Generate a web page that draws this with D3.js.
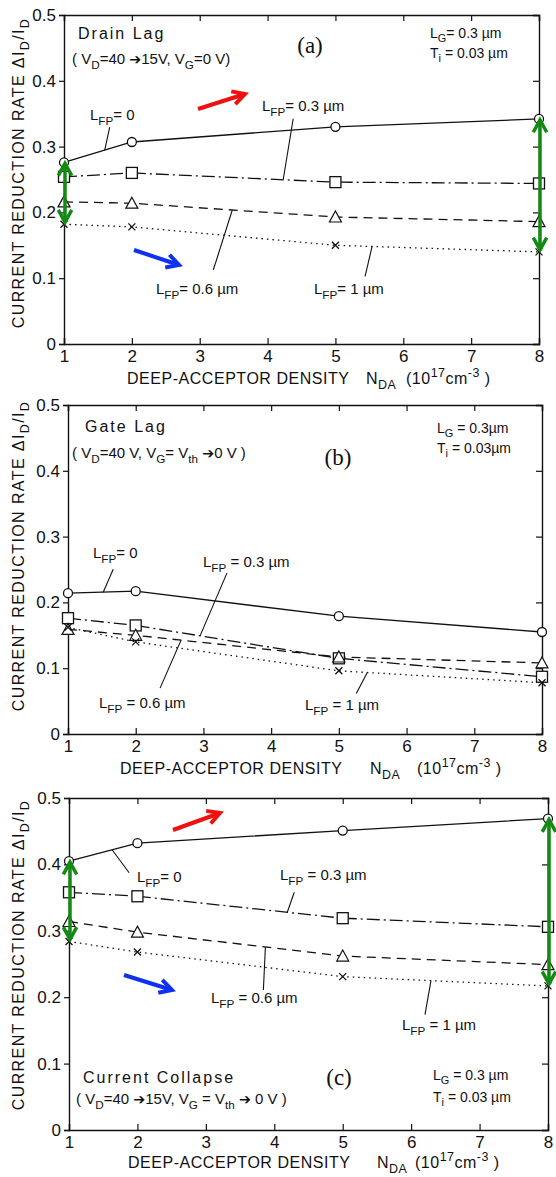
<!DOCTYPE html>
<html>
<head>
<meta charset="utf-8">
<script src="https://cdn.jsdelivr.net/npm/d3@7"></script>
<style>
  body { margin: 0; background: #fff; }
  text { font-family: "Liberation Sans", Arial, sans-serif; fill: #111; }
</style>
</head>
<body>
<svg id="chart"></svg>
<script>
// deep-acceptor density (1e17 cm^-3) where points were computed
var densities = [1, 2, 5, 8];
var xTickValues = [1, 2, 3, 4, 5, 6, 7, 8];
var yTickValues = [0, 0.1, 0.2, 0.3, 0.4, 0.5];
var yTickLabels = ['0', '0.1', '0.2', '0.3', '0.4', '0.5'];

// (a) drain lag, one array per field-plate length
var drainLag0 = [0.276, 0.307, 0.330, 0.342];
var drainLag03 = [0.254, 0.260, 0.246, 0.244];
var drainLag06 = [0.216, 0.214, 0.193, 0.186];
var drainLag1 = [0.182, 0.178, 0.150, 0.140];

// (b) gate lag
var gateLag0 = [0.214, 0.217, 0.179, 0.155];
var gateLag03 = [0.176, 0.165, 0.115, 0.087];
var gateLag06 = [0.159, 0.150, 0.117, 0.108];
var gateLag1 = [0.162, 0.140, 0.096, 0.078];

// (c) current collapse
var collapse0 = [0.405, 0.432, 0.451, 0.469];
var collapse03 = [0.358, 0.352, 0.319, 0.306];
var collapse06 = [0.314, 0.298, 0.262, 0.249];
var collapse1 = [0.284, 0.268, 0.231, 0.217];

var width = 556,
    height = 1177,
    svg = d3.select('#chart').attr('width', width).attr('height', height);

// line style + marker per L_FP series (0, 0.3, 0.6, 1 um)
var styles = [
    { dash: null, marker: 'circle' },
    { dash: '13,4,2,4', marker: 'square' },
    { dash: '9,6', marker: 'triangle' },
    { dash: '1.5,4', marker: 'cross' }
];

var panels = [
    {
        box: { left: 64, right: 539, top: 15, bottom: 344 },
        series: [drainLag0, drainLag03, drainLag06, drainLag1],
        title: { x: 127, y: 384, n: 366, unit: 406 },
        ylabel: 173,
        texts: [
            { x: 78, y: 39, parts: [['Drain Lag']], size: 16, ls: 2 },
            { x: 72, y: 64, parts: [['( V'], ['D', 'sub'], ['=40 '], ['\u2794', 'arr'], ['15V, V'], ['G', 'sub'], ['=0 V)']], size: 15 },
            { x: 430, y: 38, parts: [['L'], ['G', 'sub'], ['= 0.3 \u00b5m']], size: 14 },
            { x: 430, y: 58, parts: [['T'], ['i', 'sub'], [' = 0.03 \u00b5m']], size: 14 },
            { x: 90, y: 120, parts: [['L'], ['FP', 'sub'], ['= 0']], size: 15 },
            { x: 262, y: 111, parts: [['L'], ['FP', 'sub'], ['= 0.3 \u00b5m']], size: 15 },
            { x: 156, y: 294, parts: [['L'], ['FP', 'sub'], ['= 0.6 \u00b5m']], size: 15 },
            { x: 314, y: 294, parts: [['L'], ['FP', 'sub'], ['= 1 \u00b5m']], size: 15 }
        ],
        tag: { x: 310, y: 53, text: '(a)' },
        leaders: [
            { x: 1.6, s: 0, dx: 5, dy: -23 },
            { x: 4.23, s: 1, dx: 10, dy: -61 },
            { x: 3.48, s: 2, dx: -19, dy: 60 },
            { x: 5.54, s: 3, dx: -7, dy: 30 }
        ],
        arrows: [
            { x1: 198, y1: 109, x2: 245, y2: 94, color: '#f01010' },
            { x1: 134, y1: 250, x2: 179, y2: 265, color: '#1030f0' }
        ],
        green: true
    },
    {
        box: { left: 68, right: 542, top: 405, bottom: 734 },
        series: [gateLag0, gateLag03, gateLag06, gateLag1],
        title: { x: 120, y: 774, n: 370, unit: 417 },
        ylabel: 556,
        texts: [
            { x: 85, y: 432, parts: [['Gate Lag']], size: 16, ls: 2 },
            { x: 72, y: 458, parts: [['( V'], ['D', 'sub'], ['=40 V,  V'], ['G', 'sub'], ['= V'], ['th', 'sub'], [' '], ['\u2794', 'arr'], ['0 V )']], size: 15 },
            { x: 437, y: 433, parts: [['L'], ['G', 'sub'], [' = 0.3\u00b5m']], size: 14 },
            { x: 437, y: 453, parts: [['T'], ['i', 'sub'], [' = 0.03\u00b5m']], size: 14 },
            { x: 93, y: 558, parts: [['L'], ['FP', 'sub'], ['= 0']], size: 15 },
            { x: 203, y: 567, parts: [['L'], ['FP', 'sub'], [' = 0.3 \u00b5m']], size: 15 },
            { x: 99, y: 708, parts: [['L'], ['FP', 'sub'], [' = 0.6 \u00b5m']], size: 15 },
            { x: 305, y: 710, parts: [['L'], ['FP', 'sub'], [' = 1 \u00b5m']], size: 15 }
        ],
        tag: { x: 338, y: 465, text: '(b)' },
        leaders: [
            { x: 1.52, s: 0, dx: 10, dy: -23 },
            { x: 2.95, s: 1, dx: 27, dy: -63 },
            { x: 2.67, s: 2, dx: -21, dy: 48 },
            { x: 5.42, s: 3, dx: -11, dy: 21 }
        ],
        arrows: [],
        green: false
    },
    {
        box: { left: 69, right: 548, top: 798, bottom: 1130 },
        series: [collapse0, collapse03, collapse06, collapse1],
        title: { x: 128, y: 1168, n: 377, unit: 415 },
        ylabel: 955,
        texts: [
            { x: 83, y: 1083, parts: [['Current Collapse']], size: 16, ls: 2 },
            { x: 76, y: 1104, parts: [['( V'], ['D', 'sub'], ['=40 '], ['\u2794', 'arr'], ['15V, V'], ['G', 'sub'], [' = V'], ['th', 'sub'], [' '], ['\u2794', 'arr'], [' 0 V )']], size: 15 },
            { x: 433, y: 1080, parts: [['L'], ['G', 'sub'], [' = 0.3 \u00b5m']], size: 14 },
            { x: 433, y: 1102, parts: [['T'], ['i', 'sub'], [' = 0.03 \u00b5m']], size: 14 },
            { x: 137, y: 882, parts: [['L'], ['FP', 'sub'], ['= 0']], size: 15 },
            { x: 280, y: 880, parts: [['L'], ['FP', 'sub'], [' = 0.3 \u00b5m']], size: 15 },
            { x: 211, y: 1003, parts: [['L'], ['FP', 'sub'], [' = 0.6 \u00b5m']], size: 15 },
            { x: 402, y: 1030, parts: [['L'], ['FP', 'sub'], [' = 1 \u00b5m']], size: 15 }
        ],
        tag: { x: 339, y: 1085, text: '(c)' },
        leaders: [
            { x: 1.63, s: 0, dx: 17, dy: 23 },
            { x: 4.19, s: 1, dx: 7, dy: -20 },
            { x: 3.87, s: 2, dx: -2, dy: 43 },
            { x: 6.29, s: 3, dx: -6, dy: 34 }
        ],
        arrows: [
            { x1: 173, y1: 830, x2: 220, y2: 813, color: '#f01010' },
            { x1: 124, y1: 975, x2: 172, y2: 990, color: '#1030f0' }
        ],
        green: true
    }
];

// text with sub/superscript pieces; 'arr' pieces use a font with a bold arrow
function rich(sel, x, y, parts, size, ls) {
    var t = sel.append('text')
        .attr('x', x)
        .attr('y', y)
        .style('font-size', size + 'px')
        .style('letter-spacing', (ls || 0) + 'px');
    var shift = 0;
    parts.forEach(function (p) {
        var s = p[1] === 'sub' ? size * 0.3 : p[1] === 'sup' ? -size * 0.42 : 0;
        var ts = t.append('tspan')
            .attr('dy', s - shift)
            .text(p[0]);
        if (p[1] === 'sub' || p[1] === 'sup') {
            ts.style('font-size', (size * 0.78) + 'px');
        } else if (p[1] === 'arr') {
            ts.style('font-family', '"DejaVu Sans", sans-serif').style('font-size', (size * 0.95) + 'px');
        }
        shift = s;
    });
    return t;
}

function chevron(g, tx, ty, ang, len, color, w) {
    var a1 = ang + Math.PI - 0.5,
        a2 = ang + Math.PI + 0.5;
    g.append('path')
        .attr('d', 'M' + (tx + len * Math.cos(a1)) + ',' + (ty + len * Math.sin(a1)) +
            'L' + tx + ',' + ty +
            'L' + (tx + len * Math.cos(a2)) + ',' + (ty + len * Math.sin(a2)))
        .attr('fill', 'none')
        .attr('stroke', color)
        .attr('stroke-width', w)
        .attr('stroke-linejoin', 'miter');
}

function arrow(g, x1, y1, x2, y2, color, w, both) {
    g.append('line')
        .attr('x1', x1).attr('y1', y1)
        .attr('x2', x2).attr('y2', y2)
        .attr('stroke', color)
        .attr('stroke-width', w);
    var ang = Math.atan2(y2 - y1, x2 - x1);
    chevron(g, x2, y2, ang, 14, color, w);
    if (both) {
        chevron(g, x1, y1, ang + Math.PI, 14, color, w);
    }
}

function drawMarker(g, kind, cx, cy) {
    if (kind === 'circle') {
        g.append('circle').attr('cx', cx).attr('cy', cy).attr('r', 4.5)
            .attr('fill', '#fff').attr('stroke', '#111').attr('stroke-width', 1.3);
    } else if (kind === 'square') {
        g.append('rect').attr('x', cx - 5.5).attr('y', cy - 5.5)
            .attr('width', 11).attr('height', 11)
            .attr('fill', '#fff').attr('stroke', '#111').attr('stroke-width', 1.3);
    } else if (kind === 'triangle') {
        g.append('path')
            .attr('d', 'M' + cx + ',' + (cy - 6) + 'L' + (cx + 6) + ',' + (cy + 5) + 'L' + (cx - 6) + ',' + (cy + 5) + 'Z')
            .attr('fill', '#fff').attr('stroke', '#111').attr('stroke-width', 1.2);
    } else {
        g.append('path')
            .attr('d', 'M' + (cx - 3.5) + ',' + (cy - 3.5) + 'L' + (cx + 3.5) + ',' + (cy + 3.5) +
                'M' + (cx + 3.5) + ',' + (cy - 3.5) + 'L' + (cx - 3.5) + ',' + (cy + 3.5))
            .attr('stroke', '#111').attr('stroke-width', 1.3);
    }
}

function valueAt(values, xv) {
    for (var i = 0; i < densities.length - 1; i++) {
        if (xv >= densities[i] && xv <= densities[i + 1]) {
            var f = (xv - densities[i]) / (densities[i + 1] - densities[i]);
            return values[i] + f * (values[i + 1] - values[i]);
        }
    }
    return values[values.length - 1];
}

panels.forEach(function (p) {
    var b = p.box,
        x = d3.scaleLinear().domain([1, 8]).range([b.left, b.right]),
        y = d3.scaleLinear().domain([0, 0.5]).range([b.bottom, b.top]),
        g = svg.append('g');

    // axes: left ticks outward, the others inward
    g.append('g')
        .attr('transform', 'translate(' + b.left + ',0)')
        .call(d3.axisLeft(y).tickValues(yTickValues).tickSize(5).tickPadding(3)
            .tickFormat(function (d, i) { return yTickLabels[i]; }))
        .call(function (a) {
            a.selectAll('text').style('font-size', '17px').attr('fill', '#111')
                .style('font-family', '"Liberation Sans", Arial, sans-serif');
        });
    g.append('g')
        .attr('transform', 'translate(' + b.right + ',0)')
        .call(d3.axisRight(y).tickValues(yTickValues).tickSize(-6).tickFormat(''));
    g.append('g')
        .attr('transform', 'translate(0,' + b.bottom + ')')
        .call(d3.axisBottom(x).tickValues(xTickValues).tickSize(-6).tickPadding(6).tickFormat(d3.format('d')))
        .call(function (a) {
            a.selectAll('text').style('font-size', '17px').attr('fill', '#111')
                .style('font-family', '"Liberation Sans", Arial, sans-serif');
        });
    g.append('g')
        .attr('transform', 'translate(0,' + b.top + ')')
        .call(d3.axisTop(x).tickValues(xTickValues).tickSize(-6).tickFormat(''));
    g.selectAll('.domain').attr('stroke', '#111').attr('stroke-width', 1.4);
    g.selectAll('.tick line').attr('stroke', '#111').attr('stroke-width', 1.2);

    // x axis title
    g.append('text')
        .attr('x', p.title.x)
        .attr('y', p.title.y)
        .attr('textLength', 222)
        .attr('lengthAdjust', 'spacing')
        .style('font-size', '16px')
        .text('DEEP-ACCEPTOR DENSITY');
    rich(g, p.title.n, p.title.y, [['N'], ['DA', 'sub']], 16, 0.5);
    rich(g, p.title.unit, p.title.y, [['(10'], ['17', 'sup'], ['cm'], ['-3', 'sup'], [' )']], 16, 0.5);

    // y axis title, rotated
    rich(g, 0, 0, [['CURRENT REDUCTION RATE  \u0394I'], ['D', 'sub'], ['/I'], ['D', 'sub']], 16, 1.4)
        .attr('text-anchor', 'middle')
        .attr('transform', 'translate(24,' + p.ylabel + ') rotate(-90)');

    // series
    var line = d3.line()
        .x(function (d, i) { return x(densities[i]); })
        .y(function (d) { return y(d); });
    p.series.forEach(function (vals, si) {
        g.append('path')
            .attr('d', line(vals))
            .attr('fill', 'none')
            .attr('stroke', '#111')
            .attr('stroke-width', 1.3)
            .attr('stroke-dasharray', styles[si].dash);
    });
    p.series.forEach(function (vals, si) {
        vals.forEach(function (v, i) {
            drawMarker(g, styles[si].marker, x(densities[i]), y(v));
        });
    });

    // leader lines from labels to curves
    p.leaders.forEach(function (l) {
        var ex = x(l.x),
            ey = y(valueAt(p.series[l.s], l.x));
        g.append('line')
            .attr('x1', ex + l.dx).attr('y1', ey + l.dy)
            .attr('x2', ex).attr('y2', ey)
            .attr('stroke', '#111').attr('stroke-width', 1.1);
    });

    p.texts.forEach(function (t) {
        rich(g, t.x, t.y, t.parts, t.size, t.ls);
    });

    g.append('text')
        .attr('x', p.tag.x)
        .attr('y', p.tag.y)
        .attr('text-anchor', 'middle')
        .style('font-family', '"Liberation Serif", "Times New Roman", serif')
        .style('font-size', '23px')
        .text(p.tag.text);

    p.arrows.forEach(function (a) {
        arrow(g, a.x1, a.y1, a.x2, a.y2, a.color, 4, false);
    });

    // green spans from L_FP=0 down to L_FP=1 at both ends
    if (p.green) {
        [0, densities.length - 1].forEach(function (i) {
            var top = y(p.series[0][i]) + 1,
                bot = y(p.series[3][i]) - 2;
            arrow(g, x(densities[i]) + 1, top, x(densities[i]) + 1, bot, '#138a13', 3.5, true);
        });
    }
});
</script>
</body>
</html>
